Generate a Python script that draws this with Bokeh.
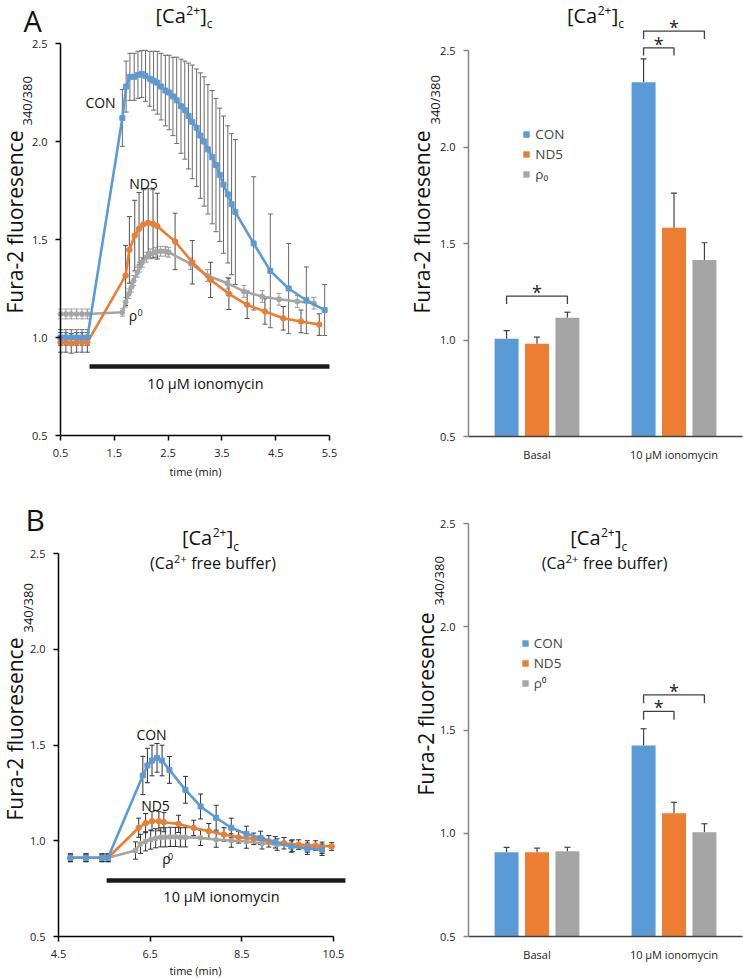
from bokeh.plotting import figure
from bokeh.models import (Label, Range1d, Whisker, TeeHead, ColumnDataSource,
                          FixedTicker, PrintfTickFormatter, Legend, LegendItem)
from bokeh.layouts import column, row
from bokeh.embed import file_html
from bokeh.resources import INLINE
from bokeh.core.properties import value

FONT = "Open Sans"
BLUE = "#5B9BD5"
ORANGE = "#ED7D31"
GRAY = "#A5A5A5"

# ------------------------------------------------------------------ data
# Panel A, time course (time in min, Fura-2 ratio, SEM)
con_a_t = [0.5, 0.6, 0.7, 0.8, 0.9, 1.0, 1.65, 1.72, 1.79, 1.87, 1.94, 2.01, 2.08, 2.16, 2.23,
           2.30, 2.37, 2.45, 2.52, 2.59, 2.66, 2.74, 2.81, 2.88, 2.95, 3.03, 3.10, 3.17, 3.24,
           3.32, 3.39, 3.46, 3.53, 3.61, 3.68, 3.75, 4.09, 4.40, 4.74, 5.07, 5.41]
con_a_v = [1.0, 1.0, 1.0, 1.0, 1.0, 1.0, 2.12, 2.28, 2.33, 2.33, 2.34, 2.345, 2.335, 2.32, 2.31,
           2.30, 2.28, 2.26, 2.25, 2.23, 2.21, 2.18, 2.16, 2.13, 2.10, 2.07, 2.03, 2.00, 1.96,
           1.92, 1.88, 1.83, 1.78, 1.73, 1.68, 1.64, 1.48, 1.34, 1.25, 1.19, 1.14]
con_a_e = [0.04, 0.04, 0.04, 0.04, 0.04, 0.04, 0.145, 0.13, 0.12, 0.12, 0.12, 0.12, 0.13, 0.14,
           0.15, 0.16, 0.17, 0.18, 0.19, 0.20, 0.22, 0.24, 0.25, 0.27, 0.29, 0.30, 0.32, 0.33,
           0.33, 0.34, 0.34, 0.34, 0.35, 0.35, 0.36, 0.37, 0.34, 0.29, 0.23, 0.17, 0.13]

nd5_a_t = [0.5, 0.6, 0.7, 0.8, 0.9, 1.0, 1.71, 1.78, 1.88, 1.96, 2.04, 2.13, 2.22, 2.30, 2.63,
           2.95, 3.29, 3.63, 3.97, 4.30, 4.64, 4.97, 5.31]
nd5_a_v = [0.975, 0.975, 0.97, 0.975, 0.975, 0.975, 1.316, 1.447, 1.52, 1.555, 1.577, 1.585,
           1.58, 1.568, 1.49, 1.384, 1.294, 1.223, 1.167, 1.133, 1.098, 1.082, 1.066]
nd5_a_e = [0.05, 0.05, 0.05, 0.05, 0.05, 0.05, 0.153, 0.17, 0.18, 0.185, 0.177, 0.174, 0.174,
           0.168, 0.144, 0.111, 0.09, 0.08, 0.07, 0.065, 0.06, 0.058, 0.055]

rho_a_t = [0.5, 0.6, 0.7, 0.8, 0.9, 1.0, 1.65, 1.71, 1.77, 1.82, 1.86, 1.93, 1.97, 2.02, 2.10,
           2.17, 2.27, 2.36, 2.45, 2.51, 2.92, 3.23, 3.60, 3.91, 4.25, 4.56, 4.90, 5.21]
rho_a_v = [1.12, 1.12, 1.12, 1.12, 1.12, 1.12, 1.129, 1.18, 1.223, 1.257, 1.291, 1.333, 1.359,
           1.384, 1.41, 1.427, 1.435, 1.44, 1.44, 1.435, 1.376, 1.316, 1.277, 1.235, 1.209,
           1.195, 1.184, 1.175]
rho_a_e = [0.025, 0.025, 0.025, 0.025, 0.025, 0.025, 0.02, 0.025, 0.025, 0.025, 0.025, 0.025,
           0.025, 0.025, 0.025, 0.025, 0.025, 0.025, 0.025, 0.025, 0.03, 0.03, 0.03, 0.03, 0.03,
           0.03, 0.03, 0.03]

# Panel B, time course in Ca2+ free buffer
con_b_t = [4.76, 5.10, 5.45, 5.58, 6.34, 6.44, 6.54, 6.65, 6.76, 6.92, 7.27, 7.60, 7.94, 8.27,
           8.60, 8.91, 9.23, 9.58, 9.93, 10.25]
con_b_v = [0.911, 0.911, 0.911, 0.911, 1.341, 1.393, 1.419, 1.433, 1.419, 1.37, 1.266, 1.179,
           1.12, 1.068, 1.036, 1.015, 0.992, 0.97, 0.958, 0.953]
con_b_e = [0.02, 0.02, 0.02, 0.02, 0.1, 0.09, 0.08, 0.075, 0.08, 0.07, 0.07, 0.065, 0.065, 0.05,
           0.04, 0.035, 0.03, 0.03, 0.03, 0.03]

nd5_b_t = [4.76, 5.10, 5.45, 5.58, 6.25, 6.40, 6.54, 6.69, 6.80, 7.12, 7.45, 7.78, 8.11, 8.43,
           8.76, 9.09, 9.42, 9.74, 10.11, 10.46]
nd5_b_v = [0.911, 0.911, 0.911, 0.911, 1.068, 1.092, 1.102, 1.102, 1.097, 1.088, 1.067, 1.05,
           1.033, 1.018, 1.01, 0.997, 0.987, 0.98, 0.975, 0.97]
nd5_b_e = [0.02, 0.02, 0.02, 0.02, 0.05, 0.05, 0.05, 0.05, 0.05, 0.045, 0.04, 0.04, 0.035, 0.03,
           0.03, 0.03, 0.03, 0.025, 0.025, 0.02]

rho_b_t = [4.76, 5.10, 5.45, 5.58, 6.18, 6.29, 6.40, 6.51, 6.62, 6.73, 6.83, 6.94, 7.05, 7.16,
           7.27, 7.60, 7.94, 8.27, 8.60, 8.94, 9.27, 9.60, 9.93, 10.25]
rho_b_v = [0.911, 0.911, 0.911, 0.911, 0.949, 0.984, 0.997, 1.006, 1.013, 1.018, 1.018, 1.02,
           1.02, 1.018, 1.018, 1.015, 1.006, 1.001, 0.996, 0.987, 0.98, 0.975, 0.97, 0.963]
rho_b_e = [0.02, 0.02, 0.02, 0.02, 0.045, 0.05, 0.05, 0.05, 0.05, 0.05, 0.05, 0.05, 0.05, 0.05,
           0.05, 0.04, 0.04, 0.035, 0.035, 0.03, 0.03, 0.03, 0.03, 0.03]

# ionomycin application (start, end in min) and the level of the marker bar
stim_a = (1.04, 5.5, 0.852)
stim_b = (5.55, 10.76, 0.792)

# Bar charts
groups = ["Basal", "10 µM ionomycin"]
group_pos = [1, 2]
series_names_a = ["CON", "ND5", "ρ₀"]
series_names_b = ["CON", "ND5", "ρ⁰"]

bar_a_con = [1.006, 2.336]
bar_a_con_err = [0.043, 0.121]
bar_a_nd5 = [0.980, 1.581]
bar_a_nd5_err = [0.035, 0.180]
bar_a_rho = [1.115, 1.415]
bar_a_rho_err = [0.029, 0.089]

bar_b_con = [0.908, 1.425]
bar_b_con_err = [0.024, 0.081]
bar_b_nd5 = [0.908, 1.097]
bar_b_nd5_err = [0.020, 0.053]
bar_b_rho = [0.913, 1.005]
bar_b_rho_err = [0.019, 0.041]

# significance brackets: (group index, series i, series j, height)
sig_a = [(0, 0, 2, 1.227), (1, 0, 1, 2.514), (1, 0, 2, 2.600)]
sig_b = [(1, 0, 1, 1.590), (1, 0, 2, 1.670)]

y_ticks = [0.5, 1.0, 1.5, 2.0, 2.5]
x_ticks_a = [0.5, 1.5, 2.5, 3.5, 4.5, 5.5]
x_ticks_b = [4.5, 6.5, 8.5, 10.5]


# ------------------------------------------------------------------ helpers
def panel(ox, oy, w, h, xmap, ymap):
    """Figure whose frame fills the whole canvas; xmap/ymap tie page pixels to data values."""
    pxa, va, pxb, vb = xmap
    sx = (pxb - pxa) / (vb - va)
    xr = Range1d(va - (pxa - ox) / sx, va + (ox + w - pxa) / sx)
    pya, wa, pyb, wb = ymap
    sy = (pya - pyb) / (wb - wa)
    yr = Range1d(wa - (oy + h - pya) / sy, wa + (pya - oy) / sy)
    p = figure(width=w, height=h, x_range=xr, y_range=yr, output_backend="svg",
               toolbar_location=None, min_border=0, min_border_left=0, min_border_right=0,
               min_border_top=0, min_border_bottom=0)
    p.title.visible = False
    p.xgrid.visible = False
    p.ygrid.visible = False
    p.outline_line_color = None
    p.background_fill_color = "white"
    p.border_fill_color = "white"
    return p, (ox, oy + h)


BASE_SHIFT = 0.3  # em: moves the anchor from the rendered text centre to its baseline


def put(p, geo, px, py, text, size, align="left", angle=0, color="#111111"):
    fx0, fy1 = geo
    if angle == 0:
        py = py - BASE_SHIFT * size
    else:
        px = px - BASE_SHIFT * size
    p.add_layout(Label(x=px - fx0, y=fy1 - py, x_units="screen", y_units="screen", text=text,
                       text_font=FONT, text_font_size=f"{size}px", text_align=align,
                       text_baseline="alphabetic", angle=angle, angle_units="deg",
                       text_color=color))


def ca_title(p, geo, b, y0):
    put(p, geo, b, y0, "[Ca", 20, align="right")
    put(p, geo, b + 0.5, y0 - 7.5, "2+", 12)
    put(p, geo, b + 14.5, y0, "]", 20)
    put(p, geo, b + 21, y0 + 6, "c", 12)


def buffer_sub(p, geo, b2, y1):
    put(p, geo, b2, y1, "(Ca", 16, align="right")
    put(p, geo, b2 + 0.3, y1 - 5.5, "2+", 11)
    put(p, geo, b2 + 17.4, y1, "free buffer)", 16)


def y_title(p, geo, xb, ys, ysub):
    put(p, geo, xb, ys, "Fura-2 fluoresence", 21, angle=90)
    put(p, geo, xb + 10, ysub, "340/380", 13, angle=90)


def axes_style(p, x_at, y_at, x_bounds, y_bounds, ycol="#000000", xcol="#000000"):
    xa, ya = p.xaxis[0], p.yaxis[0]
    xa.fixed_location = y_at
    ya.fixed_location = x_at
    xa.bounds = x_bounds
    ya.bounds = y_bounds
    for ax, col in ((xa, xcol), (ya, ycol)):
        ax.axis_line_color = col
        ax.axis_line_width = 1.5
        ax.major_tick_line_color = col
        ax.major_tick_line_width = 1.5
        ax.major_tick_out = 5
        ax.major_tick_in = 0
        ax.minor_tick_line_color = None
        ax.major_label_text_font = FONT
        ax.major_label_text_font_size = "11px"
        ax.major_label_text_color = "#222222"
        ax.major_label_standoff = 8
    ya.ticker = FixedTicker(ticks=y_ticks)
    ya.formatter = PrintfTickFormatter(format="%.1f")


def add_series(p, t, v, e, color, marker, size, bar_color):
    src = ColumnDataSource(dict(t=t, v=v, lo=[a - b for a, b in zip(v, e)],
                                hi=[a + b for a, b in zip(v, e)]))
    p.add_layout(Whisker(source=src, base="t", upper="hi", lower="lo", line_color=bar_color,
                         line_width=1,
                         upper_head=TeeHead(size=5, line_color=bar_color, line_width=1),
                         lower_head=TeeHead(size=5, line_color=bar_color, line_width=1)))
    p.line("t", "v", source=src, line_color=color, line_width=2.6)
    if marker == "asterisk":
        p.scatter("t", "v", source=src, marker=marker, size=size, line_color=color,
                  line_width=1.6)
    else:
        p.scatter("t", "v", source=src, marker=marker, size=size, fill_color=color,
                  line_color=color)


def bars(p, vals, errs, names, sig, legend_loc):
    offsets = [-0.222, 0.0, 0.222]
    colors = [BLUE, ORANGE, GRAY]
    floor = y_ticks[0]
    items = []
    for si in range(3):
        xs = [g + offsets[si] for g in group_pos]
        r_ = p.vbar(x=xs, top=vals[si], bottom=floor, width=0.175, fill_color=colors[si],
                    line_color=None)
        items.append(LegendItem(label=names[si], renderers=[r_]))
        src = ColumnDataSource(dict(x=xs, lo=vals[si],
                                    hi=[a + e for a, e in zip(vals[si], errs[si])]))
        p.add_layout(Whisker(source=src, base="x", lower="lo", upper="hi",
                             line_color="#404040", line_width=1.2, lower_head=None,
                             upper_head=TeeHead(size=6, line_color="#404040", line_width=1.2)))
    bxs, bys, sx, sy = [], [], [], []
    for g, i, j, h in sig:
        xi = group_pos[g] + offsets[i]
        xj = group_pos[g] + offsets[j]
        bxs.append([xi, xi, xj, xj])
        bys.append([h - 0.04, h, h, h - 0.04])
        sx.append((xi + xj) / 2)
        sy.append(h)
    p.multi_line(bxs, bys, line_color="#404040", line_width=1.3)
    p.text(x=sx, y=sy, text=["*"] * len(sx), text_align="center", text_baseline="middle",
           y_offset=-4, text_font=value(FONT), text_font_size="18px", text_color="#222222")
    leg = Legend(items=items, location=legend_loc, glyph_width=8, glyph_height=8,
                 label_standoff=5, label_text_font=FONT, label_text_font_size="13.5px",
                 label_height=16, spacing=2, padding=0, margin=0, border_line_color=None,
                 background_fill_alpha=0)
    p.add_layout(leg)
    p.xaxis[0].ticker = FixedTicker(ticks=group_pos)
    p.xaxis[0].major_label_overrides = {g: name for g, name in zip(group_pos, groups)}
    p.xaxis[0].major_tick_out = 0
    p.xaxis[0].major_label_standoff = 10


# ------------------------------------------------------------------ panel A, left
pA, gA = panel(0, 0, 371, 488, (60, 0.5, 329, 5.5), (435, 0.5, 43, 2.5))
axes_style(pA, 0.5, 0.5, (0.5, 5.5), (0.5, 2.5))
pA.xaxis[0].ticker = FixedTicker(ticks=x_ticks_a)
pA.xaxis[0].formatter = PrintfTickFormatter(format="%.1f")
pA.segment(x0=[stim_a[0]], y0=[stim_a[2]], x1=[stim_a[1]], y1=[stim_a[2]],
           line_color="#1a1a1a", line_width=4.5)
add_series(pA, rho_a_t, rho_a_v, rho_a_e, GRAY, "asterisk", 6, "#9a9a9a")
add_series(pA, nd5_a_t, nd5_a_v, nd5_a_e, ORANGE, "circle", 5.5, "#505050")
add_series(pA, con_a_t, con_a_v, con_a_e, BLUE, "square", 5, "#6a6a6a")
put(pA, gA, 23, 28.5, "A", 29)
ca_title(pA, gA, 185.3, 20.7)
y_title(pA, gA, 20.5, 313, 125)
put(pA, gA, 100, 106, "CON", 14, align="center")
put(pA, gA, 143, 186.7, "ND5", 14, align="center")
put(pA, gA, 128.3, 319.5, "ρ", 14)
put(pA, gA, 136.9, 315, "0", 9)
put(pA, gA, 205, 387, "10 µM ionomycin", 14.5, align="center")
put(pA, gA, 195, 474, "time (min)", 11, align="center")

# ------------------------------------------------------------------ panel A, right
pB, gB = panel(371, 0, 372, 488, (536.5, 1, 673.5, 2), (436, 0.5, 50, 2.5))
axes_style(pB, 0.5, 0.5, (0.5, 2.5), (0.5, 2.5), ycol="#868686", xcol="#404040")
bars(pB, [bar_a_con, bar_a_nd5, bar_a_rho], [bar_a_con_err, bar_a_nd5_err, bar_a_rho_err],
     series_names_a, sig_a, (151.3, 305.5))
ca_title(pB, gB, 596.7, 20.7)
y_title(pB, gB, 428, 313, 124)

# ------------------------------------------------------------------ panel B, left
pC, gC = panel(0, 488, 371, 491, (58, 4.5, 333, 10.5), (936, 0.5, 553, 2.5))
axes_style(pC, 4.5, 0.5, (4.5, 10.5), (0.5, 2.5))
pC.xaxis[0].ticker = FixedTicker(ticks=x_ticks_b)
pC.xaxis[0].formatter = PrintfTickFormatter(format="%.1f")
pC.segment(x0=[stim_b[0]], y0=[stim_b[2]], x1=[stim_b[1]], y1=[stim_b[2]],
           line_color="#1a1a1a", line_width=4.5)
add_series(pC, rho_b_t, rho_b_v, rho_b_e, GRAY, "asterisk", 6, "#303030")
add_series(pC, nd5_b_t, nd5_b_v, nd5_b_e, ORANGE, "circle", 5.5, "#303030")
add_series(pC, con_b_t, con_b_v, con_b_e, BLUE, "square", 5, "#303030")
put(pC, gC, 25, 528, "B", 30)
ca_title(pC, gC, 211.7, 543.3)
buffer_sub(pC, gC, 173.3, 567.3)
y_title(pC, gC, 21, 820, 632)
put(pC, gC, 151, 738, "CON", 14, align="center")
put(pC, gC, 155, 809, "ND5", 14, align="center")
put(pC, gC, 161.7, 862.5, "ρ", 14)
put(pC, gC, 167.6, 859, "0", 9)
put(pC, gC, 221, 900, "10 µM ionomycin", 14.5, align="center")
put(pC, gC, 195, 973, "time (min)", 11, align="center")

# ------------------------------------------------------------------ panel B, right
pD, gD = panel(371, 488, 372, 491, (536.5, 1, 673.5, 2), (936, 0.5, 523, 2.5))
axes_style(pD, 0.5, 0.5, (0.5, 2.5), (0.5, 2.5), ycol="#868686", xcol="#404040")
bars(pD, [bar_b_con, bar_b_nd5, bar_b_rho], [bar_b_con_err, bar_b_nd5_err, bar_b_rho_err],
     series_names_b, sig_b, (149.7, 287))
ca_title(pD, gD, 600, 543.3)
buffer_sub(pD, gD, 565, 567.3)
y_title(pD, gD, 432, 795, 605)

layout = column(row(pA, pB, spacing=0), row(pC, pD, spacing=0), spacing=0)
open("out.html", "w").write(file_html(layout, INLINE))
